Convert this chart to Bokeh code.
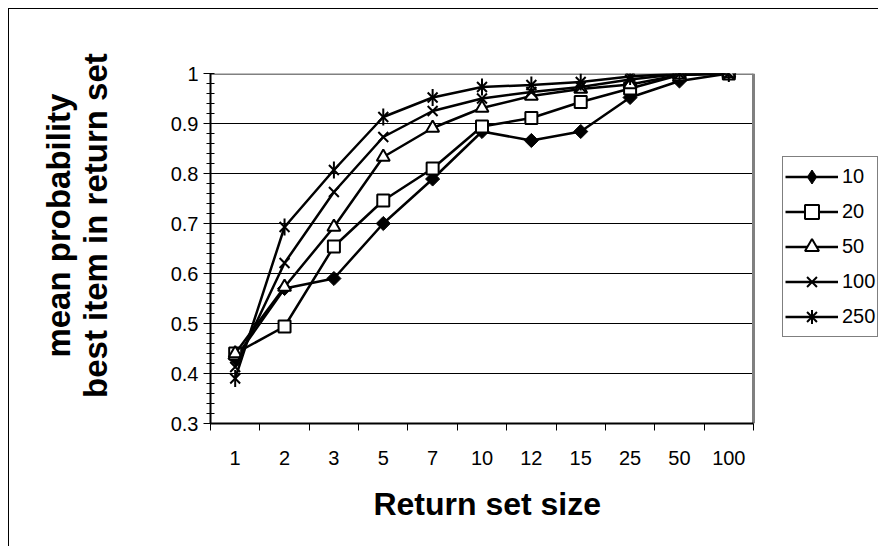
from bokeh.plotting import figure
from bokeh.models import (FixedTicker, CustomJSTickFormatter, Legend, LegendItem,
                          Range1d, ColumnDataSource)
from bokeh.embed import file_html
from bokeh.resources import INLINE

# ---- data ----
categories = ["1", "2", "3", "5", "7", "10", "12", "15", "25", "50", "100"]
series_names = ["10", "20", "50", "100", "250"]
s10 = [0.430, 0.570, 0.590, 0.700, 0.789, 0.884, 0.866, 0.884, 0.952, 0.985, 1.000]
s20 = [0.440, 0.494, 0.654, 0.746, 0.810, 0.894, 0.911, 0.943, 0.970, 0.997, 1.000]
s50 = [0.440, 0.573, 0.693, 0.833, 0.891, 0.931, 0.955, 0.969, 0.978, 0.997, 1.000]
s100 = [0.413, 0.621, 0.763, 0.873, 0.925, 0.950, 0.963, 0.973, 0.988, 0.999, 1.000]
s250 = [0.390, 0.693, 0.807, 0.913, 0.952, 0.973, 0.977, 0.983, 0.994, 1.000, 1.000]
y_ticks = [0.3, 0.4, 0.5, 0.6, 0.7, 0.8, 0.9, 1.0]

FONT = "Liberation Sans"
NB = "\u00a0"

# ---- layout geometry (canvas pixels) ----
W, H = 870, 538
LEFT, TOP, BOTTOM = 201, 64, 124
PLOT_RIGHT = 744          # where the category area ends
n = len(categories)
x_end = n * (W - LEFT) / (PLOT_RIGHT - LEFT)   # frame extends to canvas edge (room for legend)

xs = [i + 0.5 for i in range(n)]
boundaries = list(range(n + 1))

p = figure(width=W, height=H,
           x_range=Range1d(0, x_end), y_range=Range1d(y_ticks[0], y_ticks[-1]),
           output_backend="svg", toolbar_location=None,
           min_border_left=LEFT, min_border_right=0,
           min_border_top=TOP, min_border_bottom=BOTTOM)
p.styles = {"margin-left": "8px", "margin-top": "8px",
            "border-left": "1px solid black", "border-top": "1px solid black"}

p.background_fill_color = "white"
p.border_fill_color = "white"
p.outline_line_color = None

# grid (only over category area)
p.xgrid.visible = False
p.ygrid.visible = False
grid_y = y_ticks[1:-1]
p.segment(x0=[0] * len(grid_y), x1=[n] * len(grid_y), y0=grid_y, y1=grid_y,
          line_color="black", line_width=1)
# top and right border of the plot area
p.segment(x0=[0, n], x1=[n, n], y0=[y_ticks[-1], y_ticks[0]], y1=[y_ticks[-1], y_ticks[-1]],
          line_color="#808080", line_width=3)

# x axis
xa = p.xaxis[0]
xa.bounds = (0, n)
xa.ticker = FixedTicker(ticks=xs, minor_ticks=boundaries)
xa.formatter = CustomJSTickFormatter(args=dict(labels=categories),
                                     code="const i = Math.round(tick - 0.5); return labels[i] ?? '';")
xa.major_tick_in = 0
xa.major_tick_out = 0
xa.minor_tick_in = 0
xa.minor_tick_out = 7
xa.minor_tick_line_color = "black"
xa.minor_tick_line_width = 1
xa.axis_line_color = "black"
xa.axis_line_width = 2
xa.major_label_text_font = FONT
xa.major_label_text_font_size = "20px"
xa.major_label_text_color = "black"
xa.major_label_standoff = 20
xa.axis_label = "Return set size" + NB * 13
xa.axis_label_text_font = FONT
xa.axis_label_text_font_size = "32px"
xa.axis_label_text_font_style = "bold"
xa.axis_label_text_color = "black"
xa.axis_label_standoff = 18

# y axis
ya = p.yaxis[0]
minor = [round(y_ticks[0] + 0.02 * k, 2) for k in range(36)]
ya.ticker = FixedTicker(ticks=y_ticks, minor_ticks=minor)
ya.formatter = CustomJSTickFormatter(code="return Math.abs(tick - 1) < 1e-9 ? '1' : tick.toFixed(1);")
ya.major_tick_in = 3
ya.major_tick_out = 7
ya.minor_tick_in = 4
ya.minor_tick_out = 4
ya.major_tick_line_color = "black"
ya.minor_tick_line_color = "black"
ya.axis_line_color = "black"
ya.axis_line_width = 2
ya.major_label_text_font = FONT
ya.major_label_text_font_size = "20px"
ya.major_label_text_color = "black"
ya.major_label_standoff = 5
ya.axis_label = NB * 5 + "mean probability\n" + NB * 5 + "best item in return set"
ya.axis_label_text_font = FONT
ya.axis_label_text_font_size = "33px"
ya.axis_label_text_font_style = "bold"
ya.axis_label_text_color = "black"
ya.axis_label_text_line_height = 1.0
ya.axis_label_standoff = 54

# series
src = ColumnDataSource(dict(x=xs, s10=s10, s20=s20, s50=s50, s100=s100, s250=s250))
LW = 2.5
items = []

l = p.line("x", "s10", source=src, line_color="black", line_width=LW)
p.scatter("x", "s10", source=src, marker="square", angle=0.7854, size=10,
          fill_color="black", line_color="black", line_width=1)
# legend-only glyph (size 0 on the plot, drawn at legend size in the legend)
leg10 = p.scatter("x", "s10", source=src, marker="diamond", size=0,
                  fill_color="black", line_color="black", line_width=1)
items.append(LegendItem(label=series_names[0], renderers=[l, leg10]))

l = p.line("x", "s20", source=src, line_color="black", line_width=LW)
m = p.scatter("x", "s20", source=src, marker="square", size=12,
              fill_color="white", line_color="black", line_width=2)
items.append(LegendItem(label=series_names[1], renderers=[l, m]))

l = p.line("x", "s50", source=src, line_color="black", line_width=LW)
m = p.scatter("x", "s50", source=src, marker="triangle", size=13,
              fill_color="white", line_color="black", line_width=2)
items.append(LegendItem(label=series_names[2], renderers=[l, m]))

l = p.line("x", "s100", source=src, line_color="black", line_width=LW)
m = p.scatter("x", "s100", source=src, marker="x", size=14,
              line_color="black", line_width=2)
items.append(LegendItem(label=series_names[3], renderers=[l, m]))

l = p.line("x", "s250", source=src, line_color="black", line_width=LW)
m1 = p.scatter("x", "s250", source=src, marker="x", size=14,
               line_color="black", line_width=2)
p.scatter("x", "s250", source=src, marker="dash", angle=1.5708, size=17,
          line_color="black", line_width=2)
leg250 = p.scatter("x", "s250", source=src, marker="cross", size=0,
                   line_color="black", line_width=2)
items.append(LegendItem(label=series_names[4], renderers=[l, m1, leg250]))

legend = Legend(items=items, location=(572, 86))
legend.label_text_font = FONT
legend.label_text_font_size = "20px"
legend.label_text_color = "black"
legend.glyph_width = 53
legend.glyph_height = 35
legend.label_height = 35
legend.spacing = 0
legend.padding = 2
legend.margin = 0
legend.label_standoff = 4
legend.border_line_color = "black"
legend.border_line_width = 1
legend.background_fill_color = "white"
legend.background_fill_alpha = 1
p.add_layout(legend, "center")

open("out.html", "w").write(file_html(p, INLINE))
